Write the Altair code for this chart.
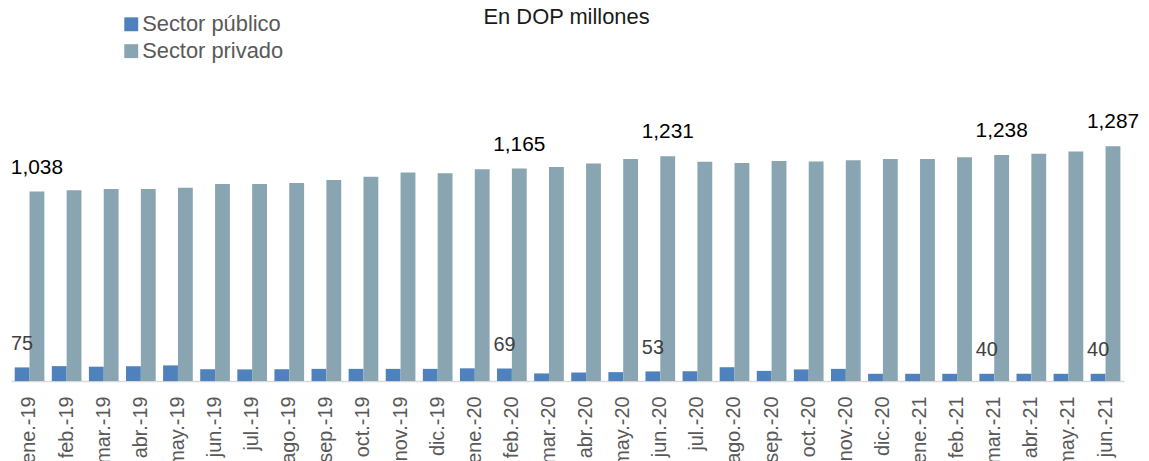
import altair as alt
import pandas as pd

months = ["ene.-19", "feb.-19", "mar.-19", "abr.-19", "may.-19", "jun.-19", "jul.-19",
          "ago.-19", "sep.-19", "oct.-19", "nov.-19", "dic.-19", "ene.-20", "feb.-20",
          "mar.-20", "abr.-20", "may.-20", "jun.-20", "jul.-20", "ago.-20", "sep.-20",
          "oct.-20", "nov.-20", "dic.-20", "ene.-21", "feb.-21", "mar.-21", "abr.-21",
          "may.-21", "jun.-21"]
publico = [75, 82, 79, 81, 86, 65, 64, 65, 67, 67, 67, 67, 70, 69,
           42, 47, 49, 53, 54, 76, 56, 64, 67, 40, 40, 40, 40, 40, 40, 40]
privado = [1038, 1045, 1052, 1052, 1059, 1079, 1079, 1085, 1101, 1119, 1143, 1139, 1161, 1165,
           1172, 1192, 1216, 1231, 1201, 1195, 1206, 1203, 1210, 1216, 1216, 1226, 1238, 1245,
           1257, 1287]
labeled_months = ["ene.-19", "feb.-20", "jun.-20", "mar.-21", "jun.-21"]
title_text = ["En DOP millones"]

sectors = ["Sector público", "Sector privado"]
colors = ["#4F81BD", "#8AA5B2"]

rows = []
for m, pu, pr in zip(months, publico, privado):
    rows.append({"month": m, "sector": sectors[0], "value": pu,
                 "label": f"{pu:,}" if m in labeled_months else ""})
    rows.append({"month": m, "sector": sectors[1], "value": pr,
                 "label": f"{pr:,}" if m in labeled_months else ""})
df = pd.DataFrame(rows)

FONT = "Liberation Sans"

x_enc = alt.X("month:N", sort=months, title=None,
              scale=alt.Scale(paddingInner=0.2, paddingOuter=0.1),
              axis=alt.Axis(labelAngle=-90, labelFontSize=20, labelColor="#595959",
                            labelFont=FONT, ticks=False, domainColor="#D9D9D9",
                            domainWidth=1.5, labelPadding=15, grid=False))
xo_enc = alt.XOffset("sector:N", scale=alt.Scale(domain=sectors))
y_enc = alt.Y("value:Q", title=None, axis=None,
              scale=alt.Scale(domain=[0, 1448], nice=False))

base = alt.Chart(df)

bars = base.mark_bar().encode(
    x=x_enc, xOffset=xo_enc, y=y_enc,
    color=alt.Color("sector:N", scale=alt.Scale(domain=sectors, range=colors),
                    legend=alt.Legend(orient="none", legendX=110, legendY=-104, title=None,
                                      symbolType="square", symbolSize=196,
                                      labelFontSize=22, labelFont=FONT, labelOffset=0,
                                      labelColor="#595959", rowPadding=5,
                                      symbolStrokeWidth=0))
)

txt_priv = base.transform_filter(
    (alt.datum.sector == sectors[1]) & (alt.datum.label != "")
).mark_text(baseline="alphabetic", dy=-18, fontSize=21, font=FONT, color="#000000").encode(
    x=x_enc, xOffset=xo_enc, y=y_enc, text="label:N"
)
txt_pub = base.transform_filter(
    (alt.datum.sector == sectors[0]) & (alt.datum.label != "")
).mark_text(baseline="alphabetic", dy=-18, fontSize=20, font=FONT, color="#404040").encode(
    x=x_enc, xOffset=xo_enc, y=y_enc, text="label:N"
)

title_layer = alt.Chart(pd.DataFrame({"t": title_text})).mark_text(
    baseline="alphabetic", align="center", fontSize=22, font=FONT, color="#1a1a1a"
).encode(text="t:N", x=alt.value(559), y=alt.value(-93))

chart = alt.layer(bars, txt_priv, txt_pub, title_layer).properties(
    width=1120, height=266,
    autosize=alt.AutoSizeParams(type="none"),
    padding={"left": 3, "top": 108, "right": 17, "bottom": 80},
).configure_view(stroke=None)

chart.save("out.html", embed_options={"renderer": "svg", "actions": False})
